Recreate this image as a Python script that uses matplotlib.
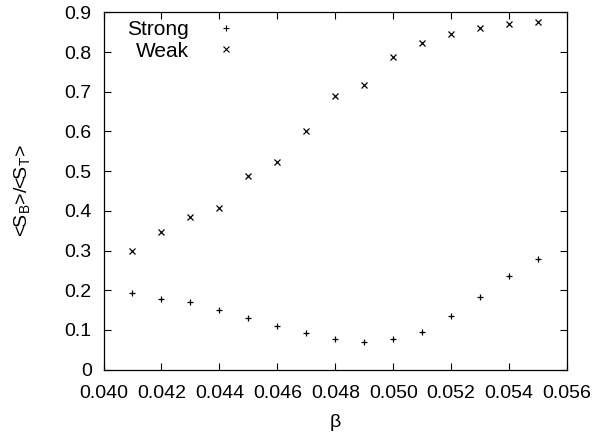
import numpy as np
import matplotlib
matplotlib.use('Agg')
from matplotlib import pyplot as plt

plt.rcParams['font.family'] = ['Liberation Sans', 'DejaVu Sans']

# beta values and the two ratio series
beta = [0.041, 0.042, 0.043, 0.044, 0.045, 0.046, 0.047, 0.048,
        0.049, 0.050, 0.051, 0.052, 0.053, 0.054, 0.055]
strong = [0.193, 0.177, 0.170, 0.149, 0.131, 0.110, 0.092, 0.077,
          0.070, 0.076, 0.094, 0.135, 0.183, 0.235, 0.278]
weak = [0.298, 0.347, 0.385, 0.407, 0.487, 0.524, 0.601, 0.689,
        0.717, 0.787, 0.823, 0.845, 0.860, 0.872, 0.875]

x_ticks = [0.040, 0.042, 0.044, 0.046, 0.048, 0.050, 0.052, 0.054, 0.056]
y_ticks = [0, 0.1, 0.2, 0.3, 0.4, 0.5, 0.6, 0.7, 0.8, 0.9]

fig = plt.figure(figsize=(5.97, 4.36), dpi=100)
ax = fig.add_axes([103.5 / 597, 1 - 369.5 / 436, 463.5 / 597, 357 / 436])

ax.plot(beta, strong, linestyle='none', marker='+', color='black',
        markersize=5, markeredgewidth=0.9)
ax.plot(beta, weak, linestyle='none', marker='x', color='black',
        markersize=4.3, markeredgewidth=0.9)

ax.set_xlim(0.040, 0.056)
ax.set_ylim(0, 0.9)
ax.set_xticks(x_ticks)
ax.set_xticklabels(['%.3f' % t for t in x_ticks])
ax.set_yticks(y_ticks)
ax.set_yticklabels(['0'] + ['%.1f' % t for t in y_ticks[1:]])
ax.tick_params(direction='in', length=5, width=0.8, top=True, right=True,
               labelsize=14)
ax.tick_params(axis='x', pad=11)
ax.tick_params(axis='y', pad=8.5)
for s in ax.spines.values():
    s.set_linewidth(0.9)

ax.set_xlabel('β', fontsize=14)
ax.xaxis.set_label_coords(0.5, -0.125)
ax.set_ylabel('<S$_\\mathregular{B}$>/<S$_\\mathregular{T}$>', fontsize=14)
ax.yaxis.set_label_coords(-0.153, 0.5)

# key in gnuplot style: right-aligned names, sample marker to the right
key_names = ['Strong', 'Weak']
key_marks = ['+', 'x']
key_y = [0.9356, 0.8748]
for name, mk, ky in zip(key_names, key_marks, key_y):
    ax.text(0.1836, ky, name, ha='right', va='baseline', fontsize=15,
            transform=ax.transAxes)
    ax.plot([0.2635], [ky + 0.022], linestyle='none', marker=mk, color='black',
            markersize=4.3, markeredgewidth=0.8, transform=ax.transAxes,
            clip_on=False)

fig.savefig('out.png', dpi=100)
